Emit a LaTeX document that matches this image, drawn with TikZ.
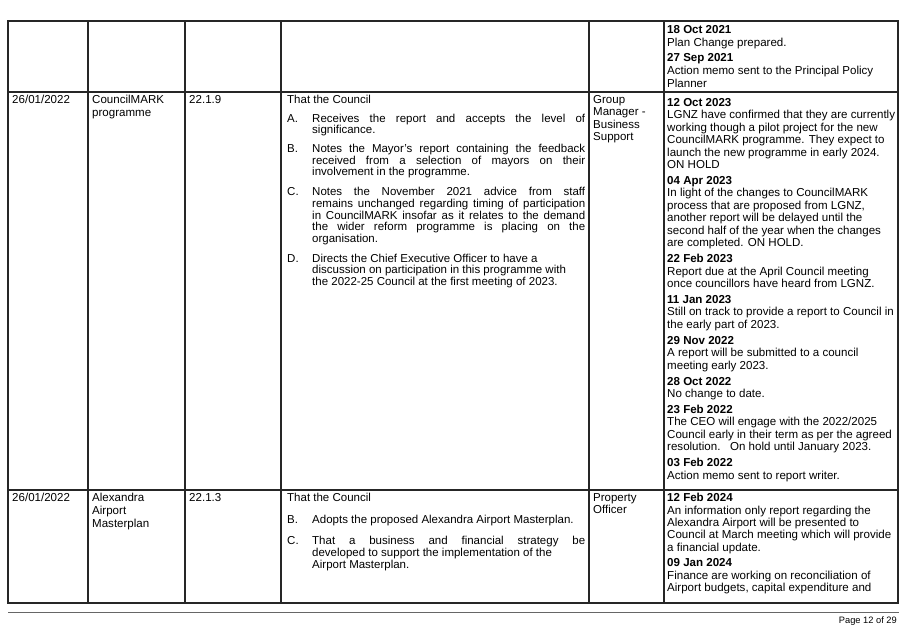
\documentclass[tikz,border=0pt]{standalone}
\usepackage{fontspec}
\setmainfont{Liberation Sans}
\begin{document}
\begin{tikzpicture}[x=1pt,y=-1pt,
  grid/.style={draw=black!85,line width=1.1pt},
  rt/.style={anchor=base west,inner sep=0pt,font=\fontsize{11.55}{12.5}\selectfont},
  md/.style={anchor=base west,inner sep=0pt,font=\fontsize{11.5}{12}\selectfont},
  hd/.style={rt,font=\fontsize{11.55}{12.5}\selectfont\bfseries}]
\useasboundingbox (0,0) rectangle (907,626);
\fill[white] (0,0) rectangle (907,626);
% table grid
\draw[grid] (8,21) rectangle (898,603);
\foreach \x in {88,185,281,589,664} \draw[grid] (\x,21) -- (\x,603);
\foreach \y in {92,490} \draw[grid] (8,\y) -- (898,\y);
\draw[draw=black!60,line width=0.8pt] (8,612) -- (899,612);
\node[anchor=base east,inner sep=0pt,font=\fontsize{9.3}{10}\selectfont] (pg) at (897,623) {Page 12 of 29};
% row 1 right
\foreach \y/\t/\s in {34/18 Oct 2021/hd,46.5/Plan Change prepared./rt,62/27 Sep 2021/hd,74.5/Action memo sent to the Principal Policy/rt,87/Planner/rt}
  \node[\s] at (667,\y) {\t};
% row 2 left columns
\node[rt] (d1) at (12,103) {26/01/2022};
\node[rt] (p1) at (92,103) {CouncilMARK};
\node[rt] (p1b) at (92,116) {programme};
\node[rt] (r1) at (189,103) {22.1.9};
\foreach \y/\t in {103/Group,115.5/Manager -,128/Business,140.5/Support}
  \node[md] at (593,\y) {\t};
% row 2 middle
\node[md] (tc1) at (287,103) {That the Council};
\foreach \y/\t in {122.3/A.,152.3/B.,195.7/C.,262/D.} \node[md] at (287,\y) {\t};
\newcommand\jl[1]{\hbox to 273pt{#1}}
\foreach \y/\t in {122.3/{\jl{Receives the report and accepts the level of}},133.8/{significance.},
  152.3/{\jl{Notes the Mayor’s report containing the feedback}},164/{\jl{received from a selection of mayors on their}},175.7/{involvement in the programme.},
  195.7/{\jl{Notes the November 2021 advice from staff}},207.3/{\jl{remains unchanged regarding timing of participation}},219/{\jl{in CouncilMARK insofar as it relates to the demand}},230.6/{\jl{the wider reform programme is placing on the}},242.2/{organisation.},
  262/{Directs the Chief Executive Officer to have a},273.7/{discussion on participation in this programme with},285.4/{the 2022-25 Council at the first meeting of 2023.}}
  \node[md] at (312,\y) {\t};
% row 2 right
\foreach \y/\t/\s in {106/12 Oct 2023/hd,118.5/LGNZ have confirmed that they are currently/rt,131/working though a pilot project for the new/rt,143.5/CouncilMARK programme. They expect to/rt,156/launch the new programme in early 2024./rt,168.5/ON HOLD/rt,
  184.3/04 Apr 2023/hd,196.8/In light of the changes to CouncilMARK/rt,209.3/{process that are proposed from LGNZ,}/rt,221.8/{another report will be delayed until the}/rt,234.3/second half of the year when the changes/rt,246.8/are completed. ON HOLD./rt,
  262.6/22 Feb 2023/hd,275.1/Report due at the April Council meeting/rt,287.6/once councillors have heard from LGNZ./rt,
  303.4/11 Jan 2023/hd,315.9/Still on track to provide a report to Council in/rt,328.4/the early part of 2023./rt,
  344.2/29 Nov 2022/hd,356.7/A report will be submitted to a council/rt,369.2/meeting early 2023./rt,
  385/28 Oct 2022/hd,397.5/No change to date./rt,
  413.3/23 Feb 2022/hd,425.8/{The CEO will engage with the 2022/2025}/rt,438.3/Council early in their term as per the agreed/rt,450.8/{resolution.\ \ \ On hold until January 2023.}/rt,
  466.6/03 Feb 2022/hd,479.1/Action memo sent to report writer./rt}
  \node[\s] at (667,\y) {\t};
% row 3
\node[rt] (d2) at (12,501) {26/01/2022};
\node[rt] (p2) at (92,501) {Alexandra};
\node[rt] (p2b) at (92,514) {Airport};
\node[rt] (p2c) at (92,527) {Masterplan};
\node[rt] (r2) at (189,501) {22.1.3};
\node[md] (pr) at (593,501) {Property};
\node[md] (of) at (593,513.5) {Officer};
\node[md] (tc2) at (287,501) {That the Council};
\node[md] at (287,523) {B.};
\node[md] at (287,544) {C.};
\node[md] at (312,523) {Adopts the proposed Alexandra Airport Masterplan.};
\node[md] at (312,544) {\jl{That a business and financial strategy be}};
\node[md] at (312,556) {developed to support the implementation of the};
\node[md] at (312,568) {Airport Masterplan.};
\foreach \y/\t/\s in {501.7/12 Feb 2024/hd,514/An information only report regarding the/rt,526.3/Alexandra Airport will be presented to/rt,538.6/Council at March meeting which will provide/rt,551/a financial update./rt,
  566.7/09 Jan 2024/hd,579/Finance are working on reconciliation of/rt,591.3/{Airport budgets, capital expenditure and}/rt}
  \node[\s] at (667,\y) {\t};
\end{tikzpicture}
\end{document}
